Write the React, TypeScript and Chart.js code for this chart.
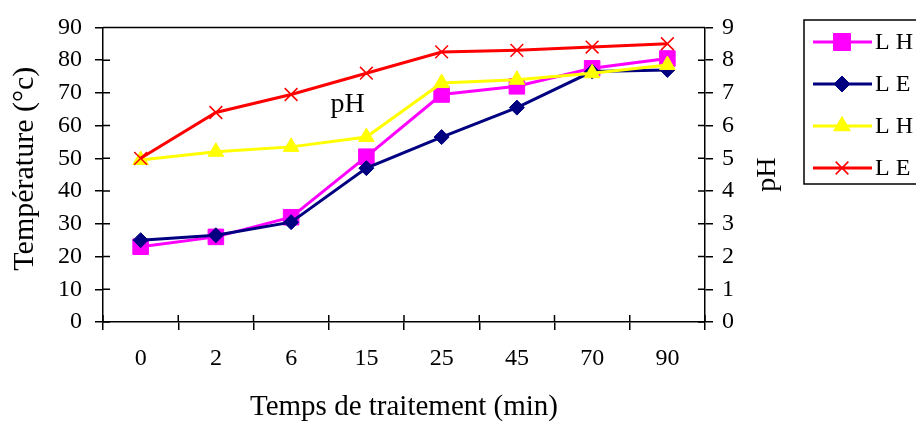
import React, { useEffect, useRef } from "react";
import { Chart, registerables } from "chart.js";
import { drawPoint } from "chart.js/helpers";

Chart.register(...registerables);

const categories = ["0", "2", "6", "15", "25", "45", "70", "90"];
const tempLH = [23, 26, 32, 50.5, 69.5, 72, 77.5, 80.5];
const tempLE = [25, 26.5, 30.5, 47, 56.5, 65.5, 76.5, 77];
const phLH = [4.95, 5.2, 5.35, 5.65, 7.3, 7.4, 7.6, 7.85];
const phLE = [5.0, 6.4, 6.95, 7.6, 8.25, 8.3, 8.4, 8.5];
const seriesLabels = ["L H", "L E", "L H", "L E"];
const colors = ["#FF00FF", "#000080", "#FFFF00", "#FF0000"];
const pointStyles = ["rect", "rectRot", "triangle", "crossRot"];
const pointRadii = [11, 7.5, 9, 9];
const legendRadii = [12, 8, 9.5, 9];

const FONT = "'Liberation Serif', 'Times New Roman', serif";

const decorPlugin = {
  id: "decor",
  afterDraw(chart: any) {
    const ctx = chart.ctx as CanvasRenderingContext2D;
    const { left, right, top, bottom } = chart.chartArea;
    const xs = chart.scales.x;
    const ys = chart.scales.y;
    const y1 = chart.scales.y1;
    ctx.save();
    ctx.strokeStyle = "#000";
    ctx.lineWidth = 1.5;
    ctx.beginPath();
    ctx.moveTo(left, top);
    ctx.lineTo(right, top);
    ys.ticks.forEach((_t: any, i: number) => {
      const py = ys.getPixelForTick(i);
      ctx.moveTo(left, py);
      ctx.lineTo(left + 7, py);
    });
    y1.ticks.forEach((_t: any, i: number) => {
      const py = y1.getPixelForTick(i);
      ctx.moveTo(right - 7, py);
      ctx.lineTo(right, py);
    });
    for (let i = 0; i <= categories.length; i++) {
      const px = xs.getPixelForValue(i - 0.5);
      ctx.moveTo(px, bottom);
      ctx.lineTo(px, bottom - 7);
    }
    ctx.stroke();

    ctx.fillStyle = "#000";
    // annotation "pH"
    ctx.font = `28px ${FONT}`;
    ctx.textAlign = "center";
    ctx.textBaseline = "alphabetic";
    ctx.fillText("pH", xs.getPixelForValue(2.75), ys.getPixelForValue(64.3));

    // left axis title
    ctx.textBaseline = "middle";
    ctx.save();
    ctx.translate(left - 78, (top + bottom) / 2 - 6);
    ctx.rotate(-Math.PI / 2);
    ctx.font = `30px ${FONT}`;
    ctx.fillText("Température (°c)", 0, 0);
    ctx.restore();

    // right axis title
    ctx.save();
    ctx.translate(right + 63, (top + bottom) / 2);
    ctx.rotate(-Math.PI / 2);
    ctx.font = `28px ${FONT}`;
    ctx.fillText("pH", 0, 0);
    ctx.restore();

    // legend
    const lx = 804;
    const ly = 20;
    ctx.lineWidth = 1.5;
    ctx.strokeStyle = "#000";
    ctx.strokeRect(lx, ly, 160, 164);
    seriesLabels.forEach((lab, i) => {
      const cy = ly + 22 + i * 42;
      ctx.strokeStyle = colors[i];
      ctx.fillStyle = colors[i];
      ctx.lineWidth = 3;
      ctx.beginPath();
      ctx.moveTo(lx + 9, cy);
      ctx.lineTo(lx + 68, cy);
      ctx.stroke();
      ctx.lineWidth = pointStyles[i] === "crossRot" ? 1.5 : 1;
      drawPoint(ctx, { pointStyle: pointStyles[i], radius: legendRadii[i], rotation: 0, borderWidth: 1 } as any, lx + 38, cy);
      ctx.fillStyle = "#000";
      ctx.font = `24px ${FONT}`;
      ctx.textAlign = "left";
      ctx.textBaseline = "middle";
      ctx.fillText(lab, lx + 71, cy + 1);
    });
    ctx.restore();
  },
};

export default function App() {
  const ref = useRef<HTMLCanvasElement | null>(null);
  useEffect(() => {
    if (!ref.current) return;
    Chart.defaults.font.family = FONT;
    Chart.defaults.color = "#000";
    const mk = (i: number, data: number[], axis: string, order: number) => ({
      label: seriesLabels[i],
      data,
      yAxisID: axis,
      borderColor: colors[i],
      backgroundColor: colors[i],
      borderWidth: 3,
      pointStyle: pointStyles[i],
      pointRadius: pointRadii[i],
      pointBorderWidth: pointStyles[i] === "crossRot" ? 1.5 : 1,
      pointBorderColor: colors[i],
      pointBackgroundColor: colors[i],
      tension: 0,
      order,
    });
    const chart = new Chart(ref.current, {
      type: "line",
      data: {
        labels: categories,
        datasets: [
          mk(0, tempLH, "y", 4),
          mk(1, tempLE, "y", 3),
          mk(2, phLH, "y1", 2),
          mk(3, phLE, "y1", 1),
        ],
      },
      options: {
        animation: false,
        responsive: false,
        devicePixelRatio: 1,
        layout: { padding: { top: 20, left: 0, right: 0, bottom: 0 } },
        plugins: { legend: { display: false }, tooltip: { enabled: false } },
        scales: {
          x: {
            type: "category",
            offset: true,
            grid: { offset: true, drawOnChartArea: false, color: "#000", lineWidth: 1.5, tickLength: 8 },
            border: { color: "#000", width: 1.5 },
            ticks: { font: { size: 24 }, padding: 14, color: "#000", maxRotation: 0 },
            title: { display: true, text: "Temps de traitement (min)", font: { size: 29 }, padding: { bottom: 5, top: 0 }, color: "#000" },
            afterFit: (s: any) => { s.height = 108; },
          },
          y: {
            position: "left",
            min: 0,
            max: 90,
            ticks: { stepSize: 10, font: { size: 24 }, padding: 13, color: "#000" },
            grid: { drawOnChartArea: false, color: "#000", lineWidth: 1.5, tickLength: 8 },
            border: { color: "#000", width: 1.5 },
            afterFit: (s: any) => { s.width = 103; },
          },
          y1: {
            position: "right",
            min: 0,
            max: 9,
            ticks: { stepSize: 1, font: { size: 24 }, padding: 9, color: "#000" },
            grid: { drawOnChartArea: false, color: "#000", lineWidth: 1.5, tickLength: 8 },
            border: { color: "#000", width: 1.5 },
            afterFit: (s: any) => { s.width = 211; },
          },
        },
      },
      plugins: [decorPlugin],
    } as any);
    return () => chart.destroy();
  }, []);
  return (
    <div style={{ position: "absolute", left: 0, top: 0, width: 916, height: 430, background: "#fff" }}>
      <canvas ref={ref} width={916} height={430} style={{ display: "block" }} />
    </div>
  );
}
